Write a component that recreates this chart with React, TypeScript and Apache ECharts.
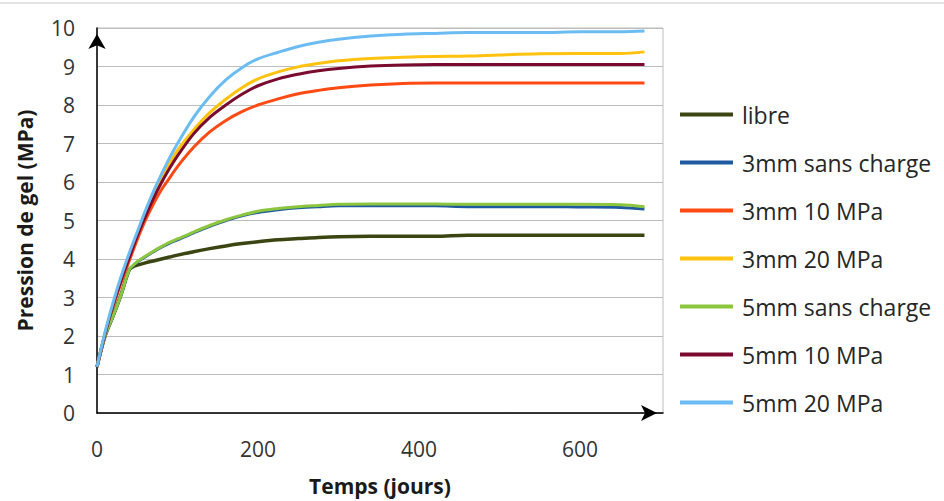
import React, { useEffect, useRef } from "react";
import * as echarts from "echarts";

const daysHigh = [0, 10, 20, 30, 40, 50, 60, 70, 80, 90, 100, 120, 140, 160, 180, 200, 225, 250, 275, 300, 340, 380, 420, 460, 500, 550, 600, 650, 680];
const daysLow = [0, 10, 20, 30, 40, 45, 50, 60, 70, 80, 90, 100, 120, 140, 160, 180, 200, 225, 250, 275, 300, 340, 380, 420, 460, 500, 550, 600, 650, 680];

const libre = [1.2, 2.0, 2.52, 3.08, 3.72, 3.8, 3.84, 3.9, 3.95, 4.0, 4.05, 4.1, 4.19, 4.27, 4.34, 4.4, 4.45, 4.5, 4.53, 4.56, 4.58, 4.59, 4.59, 4.59, 4.62, 4.62, 4.62, 4.62, 4.62, 4.62];
const mm3SansCharge = [1.2, 2.0, 2.52, 3.08, 3.72, 3.83, 3.92, 4.06, 4.19, 4.31, 4.41, 4.5, 4.68, 4.85, 5.0, 5.12, 5.21, 5.28, 5.33, 5.36, 5.38, 5.38, 5.38, 5.38, 5.36, 5.36, 5.36, 5.35, 5.34, 5.3];
const mm3_10MPa = [1.2, 2.02, 2.75, 3.38, 3.95, 4.5, 5.0, 5.43, 5.8, 6.1, 6.4, 6.9, 7.3, 7.6, 7.83, 8.0, 8.16, 8.29, 8.38, 8.45, 8.52, 8.56, 8.57, 8.57, 8.57, 8.57, 8.57, 8.57, 8.57];
const mm3_20MPa = [1.2, 2.08, 2.82, 3.48, 4.08, 4.65, 5.18, 5.66, 6.08, 6.47, 6.82, 7.35, 7.8, 8.15, 8.45, 8.68, 8.86, 8.99, 9.08, 9.15, 9.21, 9.24, 9.26, 9.27, 9.3, 9.33, 9.34, 9.34, 9.38];
const mm5SansCharge = [1.2, 2.0, 2.52, 3.08, 3.72, 3.84, 3.93, 4.07, 4.2, 4.32, 4.43, 4.52, 4.7, 4.87, 5.02, 5.14, 5.24, 5.31, 5.36, 5.39, 5.42, 5.43, 5.43, 5.43, 5.42, 5.42, 5.42, 5.42, 5.41, 5.36];
const mm5_10MPa = [1.2, 2.05, 2.8, 3.45, 4.03, 4.6, 5.1, 5.57, 5.98, 6.35, 6.68, 7.25, 7.68, 8.0, 8.28, 8.5, 8.68, 8.8, 8.89, 8.95, 9.01, 9.04, 9.05, 9.05, 9.05, 9.05, 9.05, 9.05, 9.05];
const mm5_20MPa = [1.2, 2.1, 2.87, 3.55, 4.15, 4.7, 5.25, 5.75, 6.2, 6.62, 7.0, 7.68, 8.22, 8.65, 8.97, 9.2, 9.37, 9.52, 9.63, 9.71, 9.79, 9.84, 9.86, 9.88, 9.88, 9.88, 9.9, 9.9, 9.92];

const seriesNames = ["libre", "3mm sans charge", "3mm 10 MPa", "3mm 20 MPa", "5mm sans charge", "5mm 10 MPa", "5mm 20 MPa"];
const seriesValues = [libre, mm3SansCharge, mm3_10MPa, mm3_20MPa, mm5SansCharge, mm5_10MPa, mm5_20MPa];
const seriesDays = [daysLow, daysLow, daysHigh, daysHigh, daysLow, daysHigh, daysHigh];
const seriesColors = ["#3a4512", "#1f5aa0", "#ff4a14", "#ffc20e", "#8cc63f", "#7a0a2e", "#6cbcf4"];

const xTicks = [0, 200, 400, 600];
const yTicks = [0, 1, 2, 3, 4, 5, 6, 7, 8, 9, 10];

const FONT = "'Open Sans', 'Noto Sans', sans-serif";

export default function App() {
  const ref = useRef<HTMLDivElement>(null);
  useEffect(() => {
    if (!ref.current) return;
    const chart = echarts.init(ref.current, undefined, { renderer: "svg" });
    chart.setOption({
      animation: false,
      backgroundColor: "#ffffff",
      textStyle: { fontFamily: FONT },
      graphic: [
        { type: "line", shape: { x1: 0, y1: 3, x2: 944, y2: 3 }, style: { stroke: "#c8c8c8", lineWidth: 1 } },
      ],
      grid: {
        left: 97,
        top: 28,
        right: 281,
        bottom: 87,
        show: true,
        borderColor: "#bdbdbd",
        borderWidth: 1,
        backgroundColor: "transparent",
      },
      legend: {
        orient: "vertical",
        left: 680,
        top: 103,
        padding: 0,
        icon: "rect",
        itemWidth: 53,
        itemHeight: 4,
        itemGap: 25,
        textStyle: { fontSize: 23, color: "#262626", fontFamily: FONT, padding: [0, 0, 0, 4] },
        data: seriesNames,
      },
      xAxis: {
        type: "value",
        min: 0,
        max: 703,
        interval: 200,
        name: "Temps (jours)",
        nameLocation: "middle",
        nameGap: 62,
        nameTextStyle: { fontSize: 21, fontWeight: "bold", color: "#1a1a1a", fontFamily: FONT },
        axisLine: {
          show: true,
          onZero: false,
          lineStyle: { color: "#000", width: 1.5 },
          symbol: ["none", "arrow"],
          symbolSize: [12, 16],
          symbolOffset: [0, -6],
        },
        axisTick: { show: false },
        splitLine: { show: false },
        axisLabel: {
          fontSize: 21,
          color: "#333",
          margin: 25,
          showMaxLabel: false,
          formatter: (v: number) => (xTicks.includes(v) ? String(v) : ""),
        },
      },
      yAxis: {
        type: "value",
        min: 0,
        max: 10,
        interval: 1,
        name: "Pression de gel (MPa)",
        nameLocation: "middle",
        nameGap: 62,
        nameRotate: 90,
        nameTextStyle: { fontSize: 21, fontWeight: "bold", color: "#1a1a1a", fontFamily: FONT },
        axisLine: {
          show: true,
          lineStyle: { color: "#000", width: 1.5 },
          symbol: ["none", "arrow"],
          symbolSize: [13, 15],
          symbolOffset: [0, -6],
        },
        axisTick: { show: false },
        splitLine: { show: true, lineStyle: { color: "#bdbdbd", width: 1 } },
        axisLabel: {
          fontSize: 21,
          color: "#333",
          margin: 22,
          formatter: (v: number) => (yTicks.includes(v) ? String(v) : ""),
        },
      },
      series: seriesNames.map((name, i) => ({
        name,
        type: "line",
        data: seriesDays[i].map((d, j) => [d, seriesValues[i][j]]),
        symbol: "none",
        showSymbol: false,
        smooth: 0.35,
        color: seriesColors[i],
        lineStyle: { color: seriesColors[i], width: i === 0 ? 3.5 : 3 },
        z: 2 + i,
      })),
    });
    return () => chart.dispose();
  }, []);
  return <div ref={ref} style={{ position: "fixed", left: 0, top: 0, width: 944, height: 501 }} />;
}
